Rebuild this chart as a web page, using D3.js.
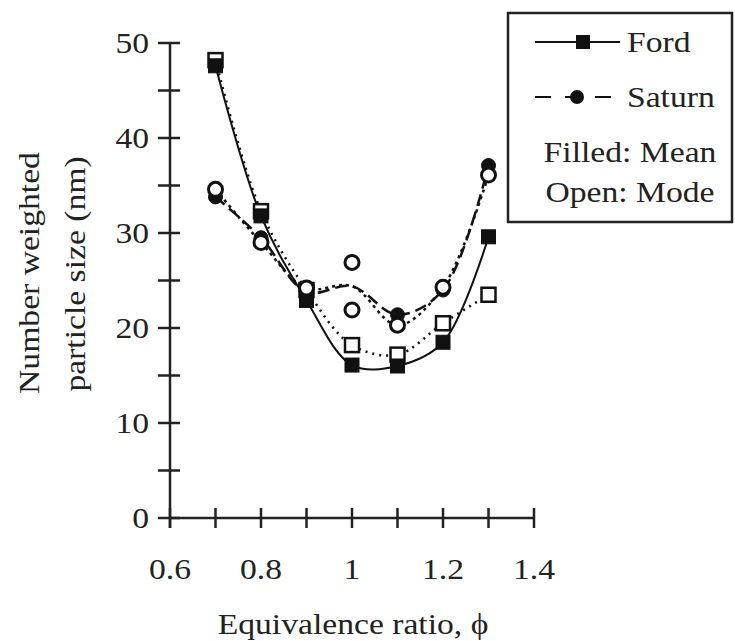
<!DOCTYPE html>
<html lang="en">
<head>
    <meta charset="UTF-8">
    <title>Particle size vs equivalence ratio</title>
    <script src="https://d3js.org/d3.v7.min.js"></script>
    <style>
        body { margin: 0; background: #fff; }
        svg text { font-family: 'Liberation Serif', 'Times New Roman', serif; font-size: 29px; fill: #222; }
        .axis line { stroke: #222; stroke-width: 2.5px; }
    </style>
</head>
<body>
<svg width="735" height="641"></svg>
<script>
    // equivalence ratio at each measurement
    var phi = [0.7, 0.8, 0.9, 1.0, 1.1, 1.2, 1.3];

    // Ford: filled = mean, open = mode
    var fordMean = [47.6, 31.8, 22.9, 16.1, 16.0, 18.5, 29.6];
    var fordMode = [48.2, 32.3, 24.0, 18.2, 17.2, 20.5, 23.5];

    // Saturn mean markers (none visible at phi = 1)
    var saturnMeanPhi = [0.7, 0.8, 0.9, 1.1, 1.2, 1.3];
    var saturnMean = [33.8, 29.5, 23.8, 21.4, 24.0, 37.1];
    // Saturn mode markers (two runs at phi = 1)
    var saturnModePhi = [0.7, 0.8, 0.9, 1.0, 1.0, 1.1, 1.2, 1.3];
    var saturnMode = [34.6, 29.0, 24.2, 26.9, 21.9, 20.3, 24.3, 36.1];

    // curves drawn through the Saturn data (phi = 1 averaged)
    var saturnMeanLine = [33.8, 29.5, 23.8, 24.4, 21.4, 24.0, 37.1];
    var saturnModeLine = [34.6, 29.0, 24.2, 24.4, 20.3, 24.3, 36.1];

    var xTicks = [0.6, 0.8, 1, 1.2, 1.4];
    var yTicks = [0, 10, 20, 30, 40, 50];

    var svg = d3.select("svg");
    var SX = 1.16; // the original type is set wider than Times

    // text helper: wide serif type, optional rotation
    function txt(parent, x, y, s, anchor, rot) {
        var t = "translate(" + x + "," + y + ")" + (rot ? " rotate(" + rot + ")" : "") + " scale(" + SX + ",1)";
        return parent.append("text")
            .attr("transform", t)
            .attr("text-anchor", anchor || "start")
            .text(s);
    }

    var x = d3.scaleLinear().domain([0.6, 1.4]).range([170, 534]);
    var y = d3.scaleLinear().domain([0, 50]).range([518, 43]);

    // x axis: ticks cross the line
    var gx = svg.append("g").attr("class", "axis");
    gx.append("line").attr("x1", x(0.6)).attr("x2", x(1.4)).attr("y1", y(0)).attr("y2", y(0));
    gx.selectAll(".tk").data(d3.range(0.6, 1.41, 0.1)).enter().append("line")
        .attr("x1", function (d) { return x(d); }).attr("x2", function (d) { return x(d); })
        .attr("y1", y(0) - 10).attr("y2", y(0) + 10);
    xTicks.forEach(function (d) { txt(gx, x(d), 579, d, "middle"); });

    // y axis
    var gy = svg.append("g").attr("class", "axis");
    gy.append("line").attr("x1", x(0.6)).attr("x2", x(0.6)).attr("y1", y(0) + 10).attr("y2", y(50));
    gy.selectAll(".tk").data(d3.range(0, 51, 5)).enter().append("line")
        .attr("x1", x(0.6) - 12).attr("x2", x(0.6) + 10)
        .attr("y1", function (d) { return y(d); }).attr("y2", function (d) { return y(d); });
    yTicks.forEach(function (d) { txt(gy, 149, y(d) + 10, d, "end"); });

    // axis titles
    txt(svg, 353, 634, "Equivalence ratio, \u03d5", "middle");
    txt(svg, 39, 273, "Number weighted", "middle", -90);
    txt(svg, 85, 274, "particle size (nm)", "middle", -90);

    // curves
    var line = d3.line()
        .x(function (d) { return x(d[0]); })
        .y(function (d) { return y(d[1]); })
        .curve(d3.curveCatmullRom.alpha(0.5));

    function drawCurve(vals, dash, w) {
        svg.append("path")
            .datum(d3.zip(phi, vals))
            .attr("d", line)
            .attr("fill", "none")
            .attr("stroke", "#111")
            .attr("stroke-width", w)
            .attr("stroke-dasharray", dash);
    }
    drawCurve(fordMode, "2,5", 2.5);
    drawCurve(saturnModeLine, "3,4", 2.5);
    drawCurve(saturnMeanLine, "12,6", 2.5);
    drawCurve(fordMean, null, 2);

    // markers
    function squares(xs, ys, filled) {
        svg.append("g").selectAll("rect").data(d3.zip(xs, ys)).enter().append("rect")
            .attr("x", function (d) { return x(d[0]) - 7; })
            .attr("y", function (d) { return y(d[1]) - 7; })
            .attr("width", 14).attr("height", 14)
            .attr("fill", filled ? "#111" : "#fff")
            .attr("stroke", "#111").attr("stroke-width", filled ? 1 : 2.5);
    }
    function circles(xs, ys, filled) {
        svg.append("g").selectAll("circle").data(d3.zip(xs, ys)).enter().append("circle")
            .attr("cx", function (d) { return x(d[0]); })
            .attr("cy", function (d) { return y(d[1]); })
            .attr("r", 7)
            .attr("fill", filled ? "#111" : "#fff")
            .attr("stroke", "#111").attr("stroke-width", filled ? 1 : 3);
    }
    squares(phi, fordMode, false);
    circles(saturnMeanPhi, saturnMean, true);
    squares(phi, fordMean, true);
    circles(saturnModePhi, saturnMode, false);

    // legend
    var lg = svg.append("g");
    lg.append("rect").attr("x", 508).attr("y", 13).attr("width", 224).attr("height", 209)
        .attr("fill", "#fff").attr("stroke", "#222").attr("stroke-width", 2.5);
    lg.append("line").attr("x1", 535).attr("x2", 620).attr("y1", 42).attr("y2", 42)
        .attr("stroke", "#111").attr("stroke-width", 2);
    lg.append("rect").attr("x", 576).attr("y", 35).attr("width", 14).attr("height", 14).attr("fill", "#111");
    lg.append("line").attr("x1", 535).attr("x2", 614).attr("y1", 97).attr("y2", 97)
        .attr("stroke", "#111").attr("stroke-width", 2).attr("stroke-dasharray", "16,14");
    lg.append("circle").attr("cx", 577).attr("cy", 97).attr("r", 7).attr("fill", "#111");
    txt(lg, 627, 52, "Ford");
    txt(lg, 627, 107, "Saturn");
    txt(lg, 630, 162, "Filled: Mean", "middle");
    txt(lg, 630, 202, "Open: Mode", "middle");
</script>
</body>
</html>
